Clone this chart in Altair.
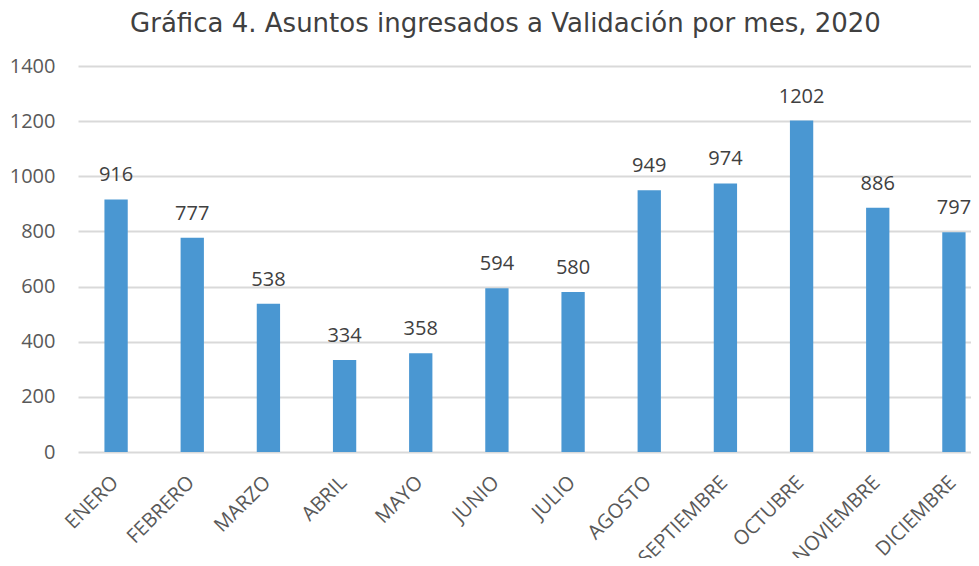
import altair as alt
import pandas as pd

months = ["ENERO", "FEBRERO", "MARZO", "ABRIL", "MAYO", "JUNIO", "JULIO",
          "AGOSTO", "SEPTIEMBRE", "OCTUBRE", "NOVIEMBRE", "DICIEMBRE"]
values = [916, 777, 538, 334, 358, 594, 580, 949, 974, 1202, 886, 797]
y_ticks = [0, 200, 400, 600, 800, 1000, 1200, 1400]

df = pd.DataFrame({"mes": months, "valor": values})

FONT = "Open Sans"
W, H = 893, 386

x = alt.X("mes:N", sort=months,
          scale=alt.Scale(range=[0, 914], paddingInner=0.694, paddingOuter=0.347),
          axis=alt.Axis(title=None, labelAngle=-45, labelFont=FONT, labelFontSize=20,
                        labelColor="#595959", labelPadding=20, labelOffset=-8,
                        labelAlign="right", labelBaseline="top",
                        ticks=False, domain=False, labelOverlap=False))
y = alt.Y("valor:Q", scale=alt.Scale(domain=[0, 1400], nice=False),
          axis=alt.Axis(title=None, values=y_ticks, format="d", labelFont=FONT,
                        labelFontSize=20, labelColor="#595959", labelPadding=23,
                        ticks=False, tickSize=0, domain=False, grid=True,
                        gridColor="#D9D9D9", gridWidth=2))

base = alt.Chart(df)
bars = base.mark_bar(color="#4A97D2").encode(x=x, y=y)
labels = base.mark_text(font=FONT, fontSize=20, color="#404040", baseline="alphabetic",
                        dy=-18).encode(x=x, y=y, text="valor:Q")

chart = (bars + labels).properties(
    width=W, height=H,
    title=alt.TitleParams("Gráfica 4. Asuntos ingresados a Validación por mes, 2020",
                          font="DejaVu Sans", fontSize=26, fontWeight="normal",
                          color="#404040", anchor="middle", dx=-19, offset=19),
    autosize=alt.AutoSizeParams(type="none"),
    padding={"left": 70, "top": 58, "right": 0, "bottom": 106},
).configure_view(stroke=None)

chart.save("out.html", embed_options={"renderer": "svg", "actions": False})
